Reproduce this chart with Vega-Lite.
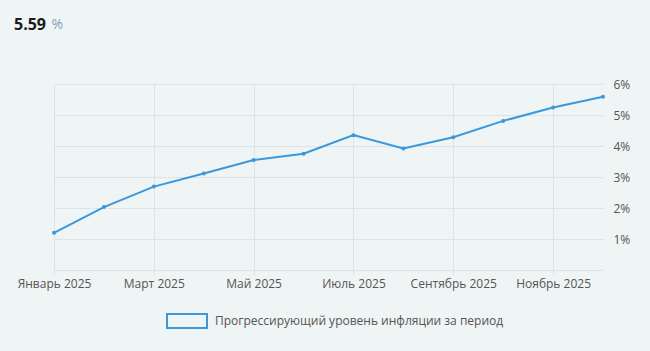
{
  "$schema": "https://vega.github.io/schema/vega-lite/v6.json",
  "autosize": "none",
  "width": 549,
  "height": 186,
  "padding": {"left": 54, "top": 84, "right": 47, "bottom": 81},
  "background": "#eff4f4",
  "title": {
    "text": "5.59",
    "anchor": "start",
    "frame": "group",
    "dx": -40,
    "offset": -16,
    "font": "Open Sans",
    "fontSize": 16,
    "fontWeight": "bold",
    "color": "#1a1a1a"
  },
  "data": {
    "values": [
      {"month": "Январь 2025", "value": 1.20, "series": "Прогрессирующий уровень инфляции за период"},
      {"month": "Февраль 2025", "value": 2.03, "series": "Прогрессирующий уровень инфляции за период"},
      {"month": "Март 2025", "value": 2.69, "series": "Прогрессирующий уровень инфляции за период"},
      {"month": "Апрель 2025", "value": 3.11, "series": "Прогрессирующий уровень инфляции за период"},
      {"month": "Май 2025", "value": 3.55, "series": "Прогрессирующий уровень инфляции за период"},
      {"month": "Июнь 2025", "value": 3.75, "series": "Прогрессирующий уровень инфляции за период"},
      {"month": "Июль 2025", "value": 4.35, "series": "Прогрессирующий уровень инфляции за период"},
      {"month": "Август 2025", "value": 3.92, "series": "Прогрессирующий уровень инфляции за период"},
      {"month": "Сентябрь 2025", "value": 4.28, "series": "Прогрессирующий уровень инфляции за период"},
      {"month": "Октябрь 2025", "value": 4.81, "series": "Прогрессирующий уровень инфляции за период"},
      {"month": "Ноябрь 2025", "value": 5.24, "series": "Прогрессирующий уровень инфляции за период"},
      {"month": "Декабрь 2025", "value": 5.59, "series": "Прогрессирующий уровень инфляции за период"}
    ]
  },
  "config": {
    "view": {"stroke": null},
    "font": "Open Sans"
  },
  "encoding": {
    "x": {
      "field": "month",
      "type": "ordinal",
      "sort": null,
      "scale": {"type": "point", "padding": 0},
      "axis": {
        "title": null,
        "values": ["Январь 2025", "Март 2025", "Май 2025", "Июль 2025", "Сентябрь 2025", "Ноябрь 2025"],
        "labelAngle": 0,
        "labelFont": "Open Sans",
        "labelFontSize": 12,
        "labelColor": "#555555",
        "labelPadding": 3,
        "domain": false,
        "grid": true,
        "gridColor": "#dde3e6",
        "tickColor": "#dde3e6",
        "tickSize": 5
      }
    },
    "y": {
      "field": "value",
      "type": "quantitative",
      "scale": {"domain": [0, 6], "nice": false},
      "axis": {
        "orient": "right",
        "title": "%",
        "titleAngle": 0,
        "titleX": -552,
        "titleY": -56,
        "titleAlign": "left",
        "titleBaseline": "alphabetic",
        "titleFont": "Open Sans",
        "titleFontSize": 14,
        "titleFontWeight": "normal",
        "titleColor": "#8aa0b8",
        "values": [0, 1, 2, 3, 4, 5, 6],
        "labelExpr": "datum.value == 0 ? '' : datum.value + '%'",
        "labelFont": "Open Sans",
        "labelFontSize": 12,
        "labelColor": "#555555",
        "labelPadding": 10,
        "ticks": false,
        "domain": false,
        "gridColor": "#dde3e6"
      }
    }
  },
  "layer": [
    {
      "mark": {"type": "line", "strokeWidth": 2},
      "encoding": {
        "stroke": {
          "field": "series",
          "type": "nominal",
          "scale": {"range": ["#3a98dd"]},
          "legend": {
            "title": null,
            "orient": "none",
            "legendX": 112,
            "legendY": 216,
            "direction": "horizontal",
            "symbolType": "M-1,-0.35L1,-0.35L1,0.35L-1,0.35Z",
            "symbolSize": 1600,
            "symbolFillColor": "transparent",
            "symbolStrokeColor": "#3a98dd",
            "symbolStrokeWidth": 2,
            "labelFont": "Open Sans",
            "labelFontSize": 12,
            "labelColor": "#555555",
            "labelLimit": 400,
            "labelOffset": 7
          }
        }
      }
    },
    {
      "mark": {"type": "point", "filled": true, "size": 16, "color": "#3a98dd", "opacity": 1}
    }
  ]
}
